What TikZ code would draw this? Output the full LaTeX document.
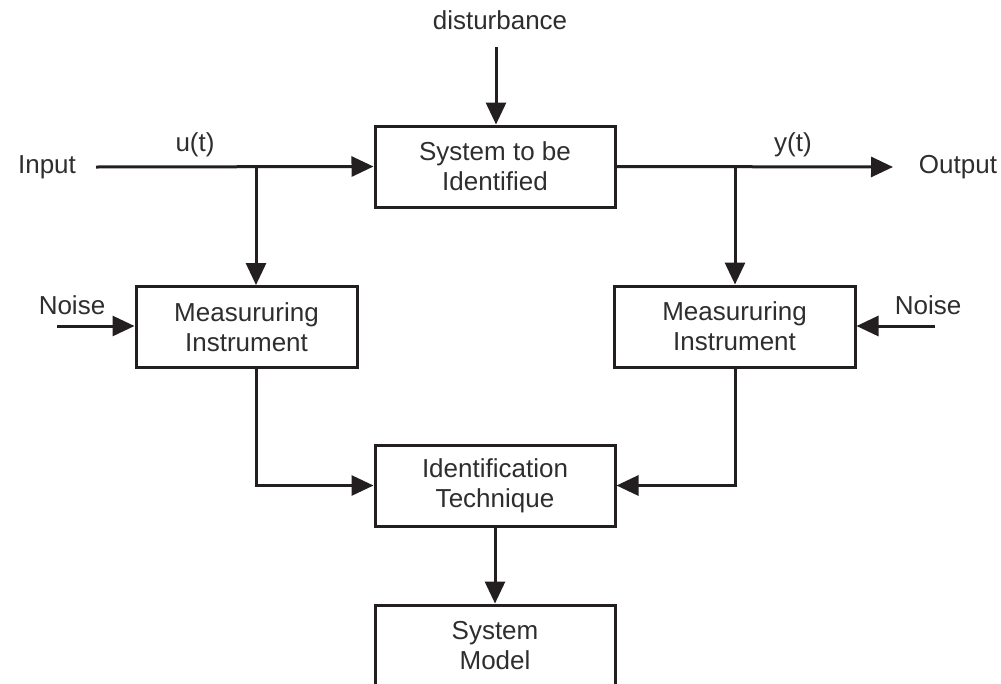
\documentclass[tikz,border=0pt]{standalone}
\usepackage{fontspec}
\setmainfont{Liberation Sans}
\usetikzlibrary{arrows.meta}
\definecolor{ink}{HTML}{231F20}
\definecolor{txt}{HTML}{2E2E2E}
\tikzset{
  blockbox/.style={draw=ink, line width=3pt, rectangle, minimum width=#1, minimum height=81pt, align=center, text=txt, font=\fontsize{26}{30}\selectfont, inner sep=0pt},
  lbl/.style={text=txt, font=\fontsize{26}{30}\selectfont, inner sep=0pt},
  conn/.style={draw=ink, line width=3pt},
  arr/.style={conn, -{Triangle[length=22pt,width=20pt]}},
}
\begin{document}
\begin{tikzpicture}[x=1pt,y=-1pt]
\useasboundingbox[fill=white] (0,0) rectangle (1001,683);
% blocks
\node[blockbox=240pt] (sys) at (495,166.5) {System to be\\Identified};
\node[blockbox=221pt] (mL) at (246.5,327) {Measururing\\Instrument};
\node[blockbox=241pt] (mR) at (734.5,326.5) {Measururing\\Instrument};
\node[blockbox=240pt] (id) at (495,485.5) {Identification\\Technique};
\begin{scope}
\clip (0,0) rectangle (1001,683);
\node[blockbox=240pt] (model) at (495,645.5) {System\\Model};
\end{scope}
% labels
\node[lbl] (in) at (47,167) {Input};
\node[lbl] (out) at (958,167) {Output};
\node[lbl] (u) at (195,145) {u(t)};
\node[lbl] (y) at (793,145) {y(t)};
\node[lbl] (dist) at (500,20) {disturbance};
\node[lbl] (nL) at (72,305) {Noise};
\node[lbl] (nR) at (928,305) {Noise};
% coordinates
\coordinate (in0) at (96,167);
\coordinate (out0) at (893,167);
\coordinate (jL) at (256,167);
\coordinate (jR) at (735,167);
\coordinate (d0) at (496,47);
\coordinate (nL0) at (57,326);
\coordinate (nR0) at (935,326);
% connectors
\draw[arr] (in0) -- (sys.west);
\draw[arr] (sys.east) -- (out0);
\draw[arr] (d0) -- (d0 |- sys.north);
\draw[arr] (jL) -- (jL |- mL.north);
\draw[arr] (jR) -- (jR |- mR.north);
\draw[arr] (nL0) -- (nL0 -| mL.west);
\draw[arr] (nR0) -- (nR0 -| mR.east);
\draw[arr] (jL |- mL.south) |- (id.west);
\draw[arr] (jR |- mR.south) |- (id.east);
\draw[arr] (id.south) -- (model.north);
\end{tikzpicture}
\end{document}
